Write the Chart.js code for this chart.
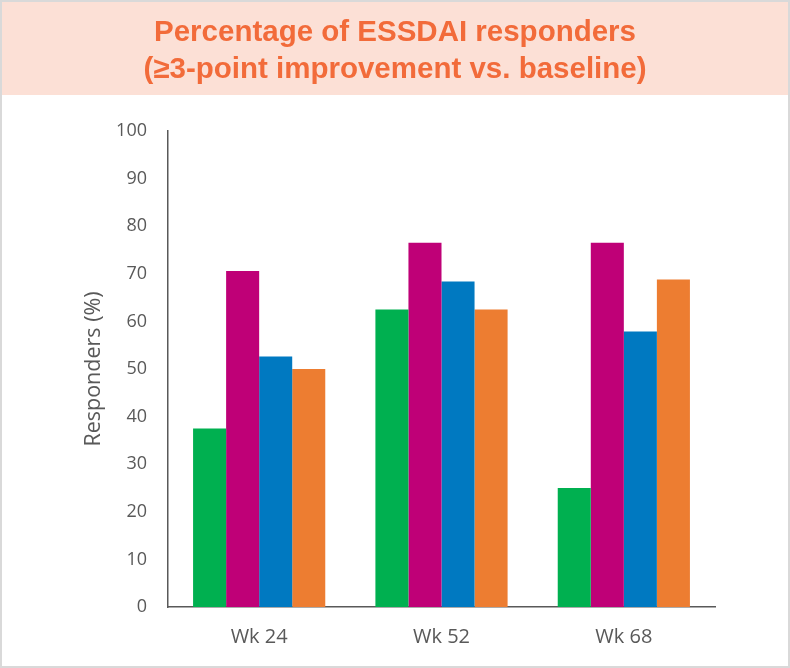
<!DOCTYPE html>
<html>
<head>
<meta charset="utf-8">
<script src="https://cdn.jsdelivr.net/npm/chart.js@4/dist/chart.umd.min.js"></script>
<style>
  html, body { margin: 0; padding: 0; background: #ffffff; }
  #wrap { width: 790px; height: 668px; position: relative; }
</style>
</head>
<body>
<div id="wrap"><canvas id="chart" width="790" height="668"></canvas></div>
<script>
// Visit labels along the x axis
const categories = ['Wk 24', 'Wk 52', 'Wk 68'];

// Responder percentages per treatment arm
const armA = [37.5, 62.5, 25.0];
const armB = [70.6, 76.5, 76.5];
const armC = [52.6, 68.4, 57.9];
const armD = [50.0, 62.5, 68.8];

const seriesNames = ['Arm A', 'Arm B', 'Arm C', 'Arm D'];
const seriesColors = ['#00B050', '#BF0077', '#0079C1', '#ED7D31'];

const yTicks = [0, 10, 20, 30, 40, 50, 60, 70, 80, 90, 100];

const titleLines = ['Percentage of ESSDAI responders', '(\u22653-point improvement vs. baseline)'];

// Header band, frame and two-line heading
const frameAndHeading = {
  id: 'frameAndHeading',
  beforeDraw(chart) {
    const ctx = chart.ctx;
    ctx.save();
    ctx.fillStyle = '#ffffff';
    ctx.fillRect(0, 0, chart.width, chart.height);
    ctx.fillStyle = '#FCE0D6';
    ctx.fillRect(2, 2, chart.width - 4, 93);
    ctx.strokeStyle = '#D9D9D9';
    ctx.lineWidth = 2;
    ctx.strokeRect(1, 1, chart.width - 2, chart.height - 2);
    ctx.fillStyle = '#F26B3A';
    ctx.font = 'bold 29.5px "Liberation Sans", Arial, sans-serif';
    ctx.textAlign = 'center';
    ctx.textBaseline = 'middle';
    ctx.fillText(titleLines[0], chart.width / 2, 33);
    ctx.fillText(titleLines[1], chart.width / 2, 70);
    ctx.restore();
  }
};

const datasets = [armA, armB, armC, armD].map((vals, i) => ({
  label: seriesNames[i],
  data: vals,
  backgroundColor: seriesColors[i],
  borderWidth: 0,
  barPercentage: 1.0,
  categoryPercentage: 0.725
}));

new Chart(document.getElementById('chart'), {
  type: 'bar',
  data: { labels: categories, datasets },
  plugins: [frameAndHeading],
  options: {
    responsive: false,
    animation: false,
    devicePixelRatio: 1,
    layout: { padding: { top: 131, left: 75, right: 75, bottom: 10 } },
    plugins: {
      legend: { display: false },
      title: { display: false },
      tooltip: { enabled: false }
    },
    scales: {
      x: {
        afterFit(scale) { scale.height = 51; },
        grid: { display: false, drawTicks: false },
        border: { display: true, color: '#595959', width: 1.5 },
        ticks: {
          color: '#595959',
          padding: 18,
          font: { family: '"Open Sans", sans-serif', size: 20 }
        }
      },
      y: {
        min: 0,
        max: 100,
        afterFit(scale) { scale.width = 93; },
        afterBuildTicks(scale) { scale.ticks = yTicks.map(v => ({ value: v })); },
        grid: { display: false, drawTicks: false },
        border: { display: true, color: '#595959', width: 1.5 },
        ticks: {
          color: '#595959',
          padding: 21,
          font: { family: '"Open Sans", sans-serif', size: 18 }
        },
        title: {
          display: true,
          text: 'Responders (%)',
          color: '#595959',
          padding: { top: 6, bottom: 0 },
          font: { family: '"Open Sans", sans-serif', size: 21.5 }
        }
      }
    }
  }
});
</script>
</body>
</html>
